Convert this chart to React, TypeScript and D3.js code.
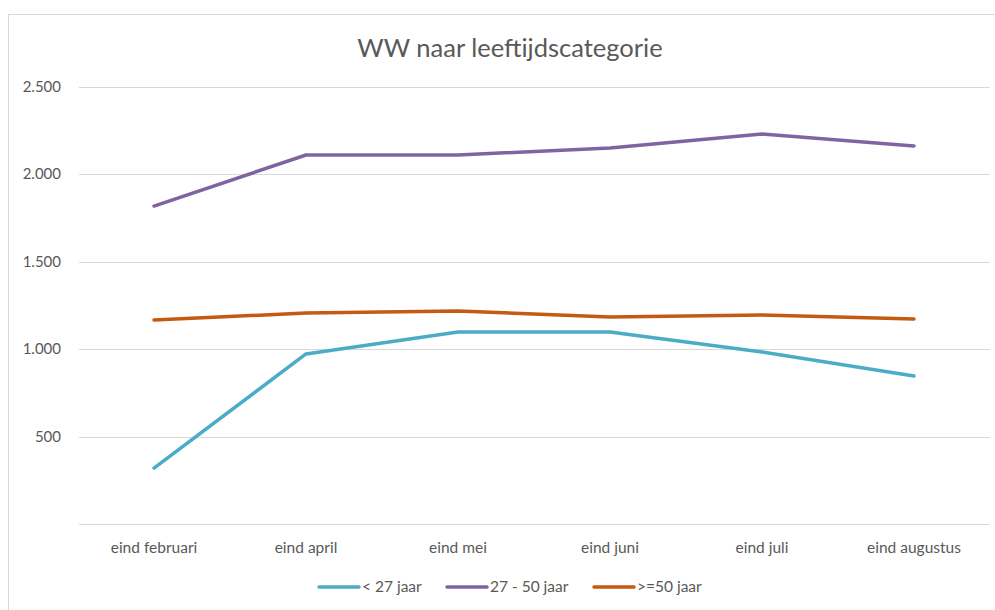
import React, { useEffect, useRef } from 'react';
import * as d3 from 'd3';

const categories = ['eind februari', 'eind april', 'eind mei', 'eind juni', 'eind juli', 'eind augustus'];
const under27 = [320, 973, 1098, 1098, 984, 847];
const from27to50 = [1819, 2111, 2111, 2151, 2231, 2163];
const over50 = [1167, 1207, 1219, 1184, 1196, 1173];
const yTicks = [0, 500, 1000, 1500, 2000, 2500];
const seriesNames = ['< 27 jaar', '27 - 50 jaar', '>=50 jaar'];
const seriesColors = ['#4bacc6', '#8064a2', '#c55a11'];

export default function App() {
  const ref = useRef<SVGSVGElement>(null);

  useEffect(() => {
    const svg = d3.select(ref.current);
    svg.selectAll('*').remove();
    const font = 'Lato, "Open Sans", sans-serif';

    // chart border
    svg.append('rect')
      .attr('x', 8.5).attr('y', 14.5)
      .attr('width', 1000).attr('height', 620)
      .attr('fill', '#fff').attr('stroke', '#d9d9d9');

    svg.append('text')
      .attr('x', 510).attr('y', 57)
      .attr('text-anchor', 'middle')
      .style('font-family', font)
      .style('font-size', '25.5px')
      .attr('fill', '#595959')
      .text('WW naar leeftijdscategorie');

    const x = d3.scaleBand().domain(categories).range([78, 990]);
    const y = d3.scaleLinear().domain([0, 2500]).range([524, 87]);

    // gridlines
    svg.append('g').selectAll('line')
      .data(yTicks).enter().append('line')
      .attr('x1', 79).attr('x2', 990)
      .attr('y1', d => Math.round(y(d)) + 0.5)
      .attr('y2', d => Math.round(y(d)) + 0.5)
      .attr('stroke', '#d9d9d9');

    svg.append('g').selectAll('text')
      .data(yTicks.filter(d => d > 0)).enter().append('text')
      .attr('x', 61).attr('y', d => y(d) + 5)
      .attr('text-anchor', 'end')
      .style('font-family', font).style('font-size', '15px')
      .attr('fill', '#595959')
      .text(d => d3.format(',')(d).replace(',', '.'));

    svg.append('g').selectAll('text')
      .data(categories).enter().append('text')
      .attr('x', d => x(d)! + x.bandwidth() / 2)
      .attr('y', 553)
      .attr('text-anchor', 'middle')
      .style('font-family', font).style('font-size', '15.5px')
      .attr('fill', '#595959')
      .text(d => d);

    const allSeries = [under27, from27to50, over50];
    const line = d3.line<number>()
      .x((d, i) => x(categories[i])! + x.bandwidth() / 2)
      .y(d => y(d));

    allSeries.forEach((s, i) => {
      svg.append('path')
        .datum(s)
        .attr('d', line)
        .attr('fill', 'none')
        .attr('stroke', seriesColors[i])
        .attr('stroke-width', 3.5)
        .attr('stroke-linecap', 'round')
        .attr('stroke-linejoin', 'round');
    });

    // legend
    const legendX = [319, 447, 594];
    const legend = svg.append('g');
    seriesNames.forEach((name, i) => {
      legend.append('line')
        .attr('x1', legendX[i]).attr('x2', legendX[i] + 40)
        .attr('y1', 587).attr('y2', 587)
        .attr('stroke', seriesColors[i])
        .attr('stroke-width', 3.5)
        .attr('stroke-linecap', 'round');
      legend.append('text')
        .attr('x', legendX[i] + 43).attr('y', 592)
        .style('font-family', font).style('font-size', '15.5px')
        .attr('fill', '#595959')
        .text(name);
    });
  }, []);

  return (
    <svg ref={ref} width={995} height={610}
      style={{ position: 'absolute', left: 0, top: 0, display: 'block' }} />
  );
}
